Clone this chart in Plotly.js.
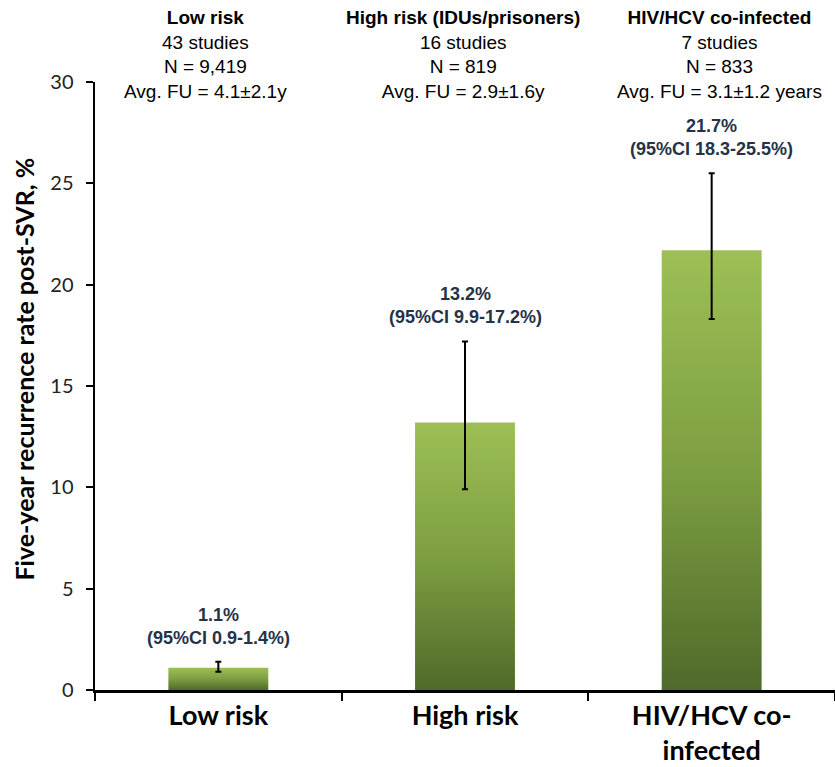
<!DOCTYPE html>
<html><head><meta charset="utf-8">
<script src="https://cdn.plot.ly/plotly-3.0.1.min.js"></script>
<style>html,body{margin:0;padding:0;background:#fff}</style>
</head><body>
<div id="chart" style="width:835px;height:767px"></div>
<script>
const categories = ['Low risk', 'High risk', 'HIV/HCV co-<br>infected'];
const rates = [1.1, 13.2, 21.7];
const ciLow = [0.9, 9.9, 18.3];
const ciHigh = [1.4, 17.2, 25.5];
const headerTitles = ['Low risk', 'High risk (IDUs/prisoners)', 'HIV/HCV co-infected'];
const headerStudies = ['43 studies', '16 studies', '7 studies'];
const headerN = ['N = 9,419', 'N = 819', 'N = 833'];
const headerFU = ['Avg. FU = 4.1\u00b12.1y', 'Avg. FU = 2.9\u00b11.6y', 'Avg. FU = 3.1\u00b11.2 years'];
const yTitle = 'Five-year recurrence rate post-SVR, %';

const errPlus = rates.map((v, i) => +(ciHigh[i] - v).toFixed(2));
const errMinus = rates.map((v, i) => +(v - ciLow[i]).toFixed(2));

const trace = {
  type: 'bar',
  x: categories,
  y: rates,
  width: 0.405,
  marker: {color: '#7a9a40', line: {width: 0}},
  error_y: {type: 'data', symmetric: false, array: errPlus, arrayminus: errMinus,
            color: '#000', thickness: 2, width: 3},
  hoverinfo: 'none'
};

const headerShift = [-13, -2, 8];
const annotations = [];
categories.forEach((c, i) => {
  annotations.push({
    xref: 'x', yref: 'paper', x: c, y: 1, xshift: headerShift[i], yshift: -22,
    yanchor: 'bottom', showarrow: false, align: 'center',
    text: '<b>' + headerTitles[i] + '</b><br>' + headerStudies[i] + '<br>' + headerN[i] + '<br>' + headerFU[i],
    font: {family: 'Liberation Sans, Arial, sans-serif', size: 19, color: '#000'}
  });
  annotations.push({
    xref: 'x', yref: 'y', x: c, y: ciHigh[i], yshift: 12,
    yanchor: 'bottom', showarrow: false, align: 'center',
    text: '<b>' + rates[i].toFixed(1) + '%<br>(95%CI ' + ciLow[i].toFixed(1) + '-' + ciHigh[i].toFixed(1) + '%)</b>',
    font: {family: 'Liberation Sans, Arial, sans-serif', size: 18, color: '#263248'}
  });
});
annotations.push({
  xref: 'paper', yref: 'paper', x: 0, y: 0.527, xshift: -71, xanchor: 'center', yanchor: 'middle',
  textangle: -90, showarrow: false,
  text: '<b>' + yTitle + '</b>',
  font: {family: 'Lato, Open Sans, sans-serif', size: 25, color: '#000'}
});

const layout = {
  width: 835, height: 767,
  margin: {l: 95, r: 0, t: 82, b: 77},
  paper_bgcolor: '#fff', plot_bgcolor: '#fff',
  showlegend: false,
  xaxis: {
    type: 'category', range: [-0.5, 2.5], showline: true, linecolor: '#000', linewidth: 2.5,
    ticks: 'outside', tickson: 'boundaries', ticklen: 8, tickwidth: 2, tickcolor: '#000',
    tickfont: {family: 'Lato, Open Sans, sans-serif', size: 27, color: '#000', weight: 'bold'},
    showgrid: false, zeroline: false, fixedrange: true
  },
  yaxis: {
    range: [0, 30], dtick: 5, showline: true, linecolor: '#000', linewidth: 2.5,
    ticks: 'outside', ticklen: 7, tickwidth: 2, tickcolor: '#000', ticklabelstandoff: 8,
    tickfont: {family: 'Lato, Open Sans, sans-serif', size: 20, color: '#222'},
    showgrid: false, zeroline: false, fixedrange: true
  },
  annotations: annotations
};

Plotly.newPlot('chart', [trace], layout, {displayModeBar: false, staticPlot: true}).then(gd => {
  const svg = gd.querySelector('svg.main-svg');
  const ns = 'http://www.w3.org/2000/svg';
  let defs = svg.querySelector('defs');
  if (!defs) { defs = document.createElementNS(ns, 'defs'); svg.insertBefore(defs, svg.firstChild); }
  const grad = document.createElementNS(ns, 'linearGradient');
  grad.setAttribute('id', 'barGrad');
  grad.setAttribute('x1', '0'); grad.setAttribute('y1', '0');
  grad.setAttribute('x2', '0'); grad.setAttribute('y2', '1');
  [['0', '#9dbf55'], ['0.5', '#7e9e42'], ['1', '#4f6a2a']].forEach(([o, c]) => {
    const s = document.createElementNS(ns, 'stop');
    s.setAttribute('offset', o); s.setAttribute('stop-color', c);
    grad.appendChild(s);
  });
  defs.appendChild(grad);
  gd.querySelectorAll('.bars .point path').forEach(p => { p.style.fill = 'url(#barGrad)'; });
});
</script>
</body></html>
